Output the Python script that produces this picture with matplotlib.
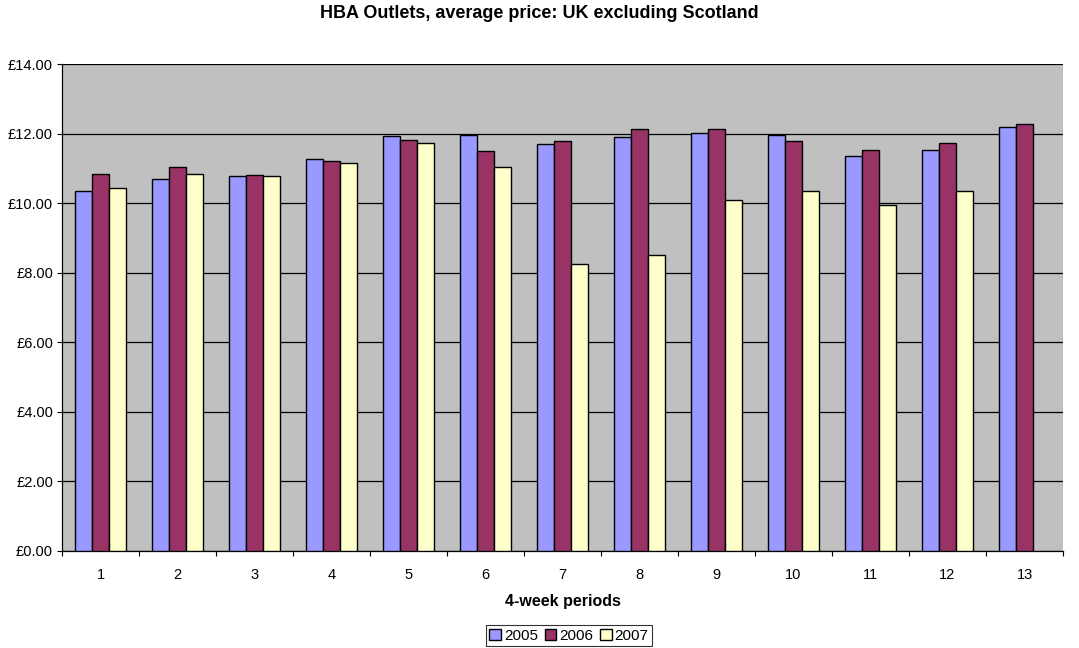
import numpy as np
import matplotlib
matplotlib.use("Agg")
import matplotlib.pyplot as plt
from matplotlib.ticker import FuncFormatter, MultipleLocator, FixedLocator

plt.rcParams['font.family'] = ['Liberation Sans', 'DejaVu Sans']

periods = [str(i) for i in range(1, 14)]
price_2005 = [10.34, 10.69, 10.78, 11.27, 11.93, 11.95, 11.70, 11.90, 12.02, 11.95, 11.35, 11.54, 12.18]
price_2006 = [10.83, 11.03, 10.81, 11.22, 11.82, 11.51, 11.80, 12.14, 12.12, 11.78, 11.54, 11.73, 12.27]
price_2007 = [10.43, 10.85, 10.77, 11.16, 11.72, 11.04, 8.24, 8.50, 10.09, 10.35, 9.94, 10.35]

series = [("2005", price_2005, "#9999FF"),
          ("2006", price_2006, "#993366"),
          ("2007", price_2007, "#FFFFCC")]

fig = plt.figure(figsize=(10.79, 6.48), dpi=100)
ax = fig.add_axes([62/1079, 1 - 551/648, (1063 - 62)/1079, (551 - 64)/648])
ax.set_facecolor("#C0C0C0")

width = 0.225
x = np.arange(len(periods))
for i, (name, vals, color) in enumerate(series):
    xs = x[:len(vals)] + (i - 1) * width
    ax.bar(xs, vals, width=width, color=color, edgecolor="black", linewidth=1.0,
           label=name, zorder=3)

ax.set_xlim(-0.5, len(periods) - 0.5)
ax.set_ylim(0, 14)
ax.yaxis.set_major_locator(MultipleLocator(2))
ax.yaxis.set_major_formatter(FuncFormatter(lambda v, p: f"£{v:.2f}"))
ax.grid(axis="y", color="black", linewidth=0.9, zorder=1)

ax.set_xticks(x)
ax.set_xticklabels(periods)
ax.xaxis.set_minor_locator(FixedLocator(np.arange(-0.5, len(periods), 1.0)))
ax.tick_params(axis="x", which="major", length=0, pad=12, labelsize=10.5)
ax.tick_params(axis="x", which="minor", length=3.5, width=0.8, direction="out")
ax.tick_params(axis="y", length=3.5, width=0.8, direction="out", labelsize=10.5, pad=3)

for side in ["top", "right"]:
    ax.spines[side].set_visible(False)
for side in ["left", "bottom"]:
    ax.spines[side].set_color("black")
    ax.spines[side].set_linewidth(0.9)

ax.set_xlabel("4-week periods", fontsize=11.5, fontweight="bold", labelpad=9)
fig.suptitle("HBA Outlets, average price: UK excluding Scotland",
             fontsize=13, fontweight="bold", y=1 - 13/648, va="center")

leg = ax.legend(loc="center", bbox_to_anchor=(569/1079, 1 - 635.5/648),
                bbox_transform=fig.transFigure, ncol=3, frameon=True,
                fancybox=False, edgecolor="black", fontsize=11,
                handlelength=0.75, handleheight=0.75, handletextpad=0.2,
                columnspacing=0.45, borderpad=0.2, borderaxespad=0)
leg.get_frame().set_linewidth(0.8)

fig.savefig("out.png", dpi=100)
